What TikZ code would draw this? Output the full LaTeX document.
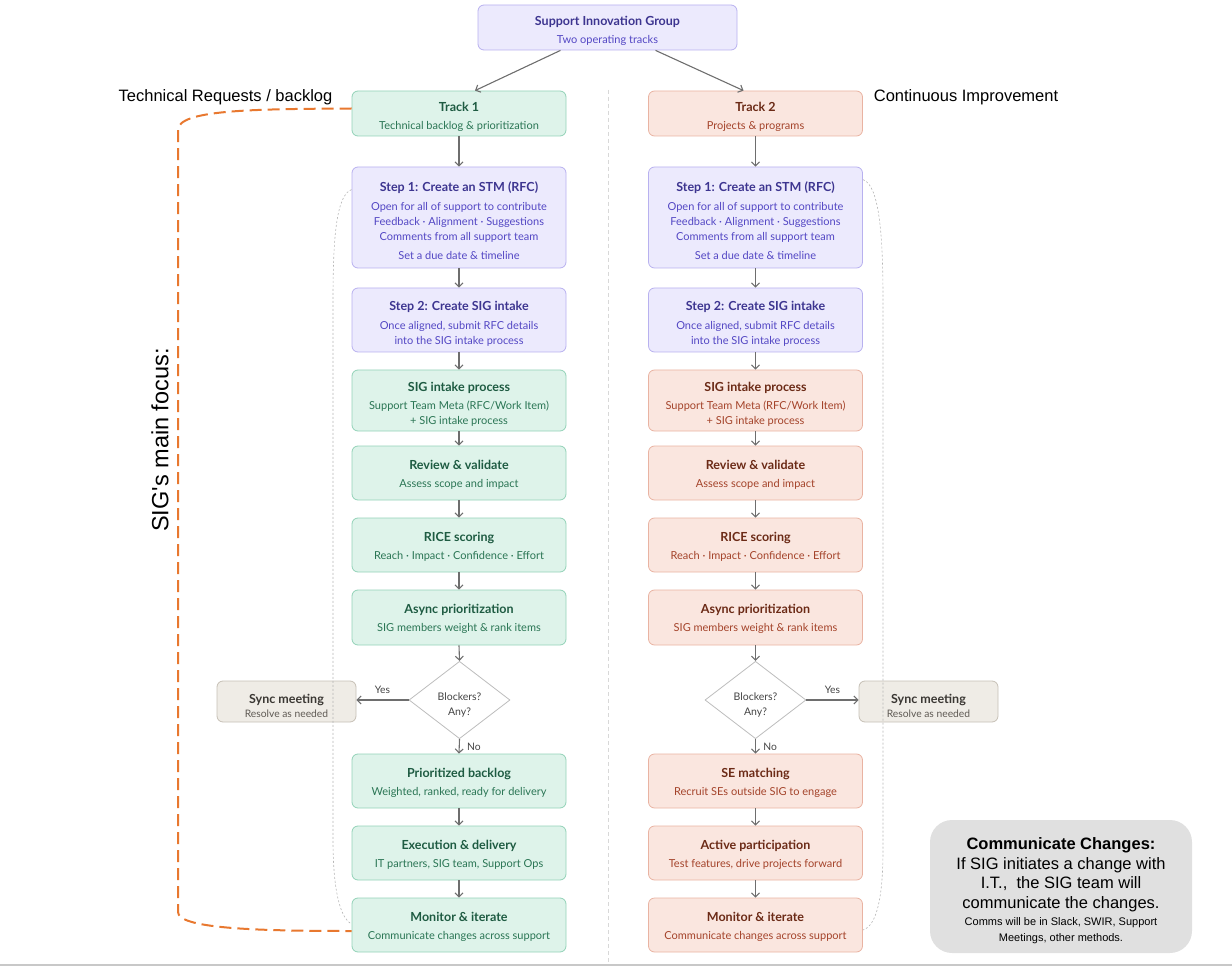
\documentclass[tikz,border=0pt]{standalone}
\usepackage{fontspec}
\setmainfont{Lato}
\newfontfamily\arial{Liberation Sans}
\usetikzlibrary{shapes.geometric,arrows.meta,calc}
\definecolor{PF}{HTML}{ECEAFD}\definecolor{PD}{HTML}{B8B1EF}\definecolor{PT}{HTML}{3D3590}\definecolor{PS}{HTML}{5347C4}
\definecolor{GF}{HTML}{DEF3EA}\definecolor{GD}{HTML}{92D2B7}\definecolor{GT}{HTML}{1E5B42}\definecolor{GS}{HTML}{2A7554}
\definecolor{OF}{HTML}{FAE6DF}\definecolor{OD}{HTML}{E9B3A2}\definecolor{OT}{HTML}{6B2A16}\definecolor{OS}{HTML}{A4432A}
\definecolor{SF}{HTML}{EFECE6}\definecolor{SD}{HTML}{C6C0B6}\definecolor{ST}{HTML}{3A3733}\definecolor{SS}{HTML}{5F5A54}
\definecolor{AR}{HTML}{6E6E6E}\definecolor{DD}{HTML}{BDBDBD}\definecolor{DT}{HTML}{444444}
\definecolor{OR}{HTML}{E8782F}\definecolor{CB}{HTML}{E0E0E0}\definecolor{GL}{HTML}{B5B5B5}
\definecolor{DV}{HTML}{D8D8D8}\definecolor{BL}{HTML}{C8C8C8}
\newcommand\ttl{\fontsize{12.5}{15}\selectfont\bfseries\rule{0pt}{17pt}}
\newcommand\mttl{\fontsize{12.5}{15}\selectfont\bfseries\rule{0pt}{13pt}}
\newcommand\sttl{\fontsize{12.5}{15}\selectfont\bfseries\rule{0pt}{19pt}}
\begin{document}
\begin{tikzpicture}[x=1pt,y=-1pt,
  box/.style={rounded corners=6pt, line width=0.8pt, align=center, inner sep=0pt,
    minimum width=214pt, font=\fontsize{11}{15}\selectfont},
  pbox/.style={box, fill=PF, draw=PD, text=PS},
  gbox/.style={box, fill=GF, draw=GD, text=GS},
  obox/.style={box, fill=OF, draw=OD, text=OS},
  sbox/.style={box, fill=SF, draw=SD, text=SS, minimum width=139pt, minimum height=41pt, font=\fontsize{10.3}{13}\selectfont},
  dia/.style={diamond, draw=DD, fill=white, line width=0.8pt, minimum width=101pt, minimum height=60pt,
    inner sep=0pt, align=center, text=DT, font=\fontsize{10.5}{15}\selectfont},
  arr/.style={draw=AR, line width=1.1pt, -{Straight Barb[length=4pt,width=8pt]}},
  lbl/.style={text=DT, font=\fontsize{10.3}{12}\selectfont},
  orangedash/.style={draw=OR, line width=2pt, dash pattern=on 12pt off 6pt},
  greydash/.style={draw=GL, line width=0.6pt, dash pattern=on 2pt off 2pt},
  side/.style={font=\arial\fontsize{16.5}{19}\selectfont, text=black}
]
\useasboundingbox (0,0) rectangle (1232,968);

% divider and base line
\draw[draw=DV, line width=0.6pt, dash pattern=on 4pt off 3pt] (608,90) -- (608,962);
\draw[draw=BL, line width=1.5pt] (0,965) -- (1232,965);

% top
\node[pbox, minimum width=259pt, minimum height=45pt] (top) at (607.5,27.5)
  {{\color{PT}\ttl Support Innovation Group}\\[3pt]Two operating tracks};

% side labels
\node[side] (lt) at (225.5,97) {Technical Requests / backlog};
\node[side] (rt) at (966,97) {Continuous Improvement};
\node[rotate=90, font=\arial\fontsize{23.5}{26}\selectfont] (foc) at (160,440) {SIG's main focus:};

% left column
\node[gbox, minimum height=45pt] (t1) at (459,113.5) {{\color{GT}\ttl Track 1}\\[3pt]Technical backlog \& prioritization};
\node[pbox, minimum height=101pt] (a1) at (459,217.5) {{\color{PT}\ttl Step 1: Create an STM (RFC)}\\[4pt]Open for all of support to contribute\\Feedback · Alignment · Suggestions\\Comments from all support team\\[4pt]Set a due date \& timeline};
\node[pbox, minimum height=64pt] (a2) at (459,320) {{\color{PT}\ttl Step 2: Create SIG intake}\\[4pt]Once aligned, submit RFC details\\into the SIG intake process};
\node[gbox, minimum height=61pt] (a3) at (459,400.5) {{\color{GT}\ttl SIG intake process}\\[3pt]Support Team Meta (RFC/Work Item)\\+ SIG intake process};
\node[gbox, minimum height=54pt] (a4) at (459,473) {{\color{GT}\mttl Review \& validate}\\[3pt]Assess scope and impact};
\node[gbox, minimum height=54pt] (a5) at (459,545) {{\color{GT}\mttl RICE scoring}\\[3pt]Reach · Impact · Confidence · Effort};
\node[gbox, minimum height=55pt] (a6) at (459,617.5) {{\color{GT}\mttl Async prioritization}\\[3pt]SIG members weight \& rank items};
\node[dia] (d1) at (459.5,700) {\rule{0pt}{17pt}Blockers?\\Any?};
\node[sbox] (y1) at (286.5,701.5) {{\color{ST}\sttl Sync meeting}\\[1pt]Resolve as needed};
\node[gbox, minimum height=54pt] (a7) at (459,781) {{\color{GT}\mttl Prioritized backlog}\\[3pt]Weighted, ranked, ready for delivery};
\node[gbox, minimum height=54pt] (a8) at (459,853) {{\color{GT}\mttl Execution \& delivery}\\[3pt]IT partners, SIG team, Support Ops};
\node[gbox, minimum height=54pt] (a9) at (459,925) {{\color{GT}\mttl Monitor \& iterate}\\[3pt]Communicate changes across support};

% right column
\node[obox, minimum height=45pt] (t2) at (755.5,113.5) {{\color{OT}\ttl Track 2}\\[3pt]Projects \& programs};
\node[pbox, minimum height=101pt] (b1) at (755.5,217.5) {{\color{PT}\ttl Step 1: Create an STM (RFC)}\\[4pt]Open for all of support to contribute\\Feedback · Alignment · Suggestions\\Comments from all support team\\[4pt]Set a due date \& timeline};
\node[pbox, minimum height=64pt] (b2) at (755.5,320) {{\color{PT}\ttl Step 2: Create SIG intake}\\[4pt]Once aligned, submit RFC details\\into the SIG intake process};
\node[obox, minimum height=61pt] (b3) at (755.5,400.5) {{\color{OT}\ttl SIG intake process}\\[3pt]Support Team Meta (RFC/Work Item)\\+ SIG intake process};
\node[obox, minimum height=54pt] (b4) at (755.5,473) {{\color{OT}\mttl Review \& validate}\\[3pt]Assess scope and impact};
\node[obox, minimum height=54pt] (b5) at (755.5,545) {{\color{OT}\mttl RICE scoring}\\[3pt]Reach · Impact · Confidence · Effort};
\node[obox, minimum height=55pt] (b6) at (755.5,617.5) {{\color{OT}\mttl Async prioritization}\\[3pt]SIG members weight \& rank items};
\node[dia] (d2) at (755.5,700) {\rule{0pt}{17pt}Blockers?\\Any?};
\node[sbox] (y2) at (928.5,701.5) {{\color{ST}\sttl Sync meeting}\\[1pt]Resolve as needed};
\node[obox, minimum height=54pt] (b7) at (755.5,781) {{\color{OT}\mttl SE matching}\\[3pt]Recruit SEs outside SIG to engage};
\node[obox, minimum height=54pt] (b8) at (755.5,853) {{\color{OT}\mttl Active participation}\\[3pt]Test features, drive projects forward};
\node[obox, minimum height=54pt] (b9) at (755.5,925) {{\color{OT}\mttl Monitor \& iterate}\\[3pt]Communicate changes across support};

% connectors
\draw[arr] ($(top.south)+(-47,0)$) -- ($(t1.north)+(16,0)$);
\draw[arr] ($(top.south)+(48,0)$) -- ($(t2.north)+(-12,0)$);
\foreach \u/\v in {t1/a1,a1/a2,a2/a3,a3/a4,a4/a5,a5/a6,a6/d1,t2/b1,b1/b2,b2/b3,b3/b4,b4/b5,b5/b6,b6/d2,a7/a8,a8/a9,b7/b8,b8/b9}
  \draw[arr] (\u.south) -- (\v.north);
\draw[arr] (d1.west) -- node[lbl, above=3pt] {Yes} (d1.west -| y1.east);
\draw[arr] (d1.south) -- node[lbl, right=4pt] {No} (a7.north);
\draw[arr] (d2.east) -- node[lbl, above=3pt] {Yes} (d2.east -| y2.west);
\draw[arr] (d2.south) -- node[lbl, right=4pt] {No} (b7.north);

% orange focus bracket
\draw[orangedash] ($(t1.west)+(0,-5)$) .. controls (250,109) and (178,110) .. (178,130) -- (178,912)
  .. controls (178,928) and (250,931) .. ($(a9.west)+(0,6)$);

% grey thin curves
\draw[greydash] ($(a1.north west)+(0,23)$) .. controls (336,195) and (333,240) .. (333,300) -- (333,840)
  .. controls (333,890) and (340,918) .. ($(a9.west)+(0,-1)$);
\draw[greydash] ($(b1.north east)+(0,13)$) .. controls (880,185) and (883,240) .. (883,300) -- (883,850)
  .. controls (883,900) and (876,926) .. ($(b9.east)+(0,5)$);

% communicate box
\node[fill=CB, rounded corners=22pt, minimum width=262pt, minimum height=133pt, inner sep=0pt] (cc) at (1061,886.5) {};
\node[align=center, font=\arial\fontsize{16.5}{19.5}\selectfont, text=black] (cct) at (1061,891)
  {\textbf{Communicate Changes:}\\If SIG initiates a change with\\I.T.,\ \ the SIG team will\\communicate the changes.\\[-2pt]{\fontsize{11}{13}\selectfont Comms will be in Slack, SWIR, Support}\\[-3.5pt]{\fontsize{11}{13}\selectfont Meetings, other methods.}};
\end{tikzpicture}
\end{document}
